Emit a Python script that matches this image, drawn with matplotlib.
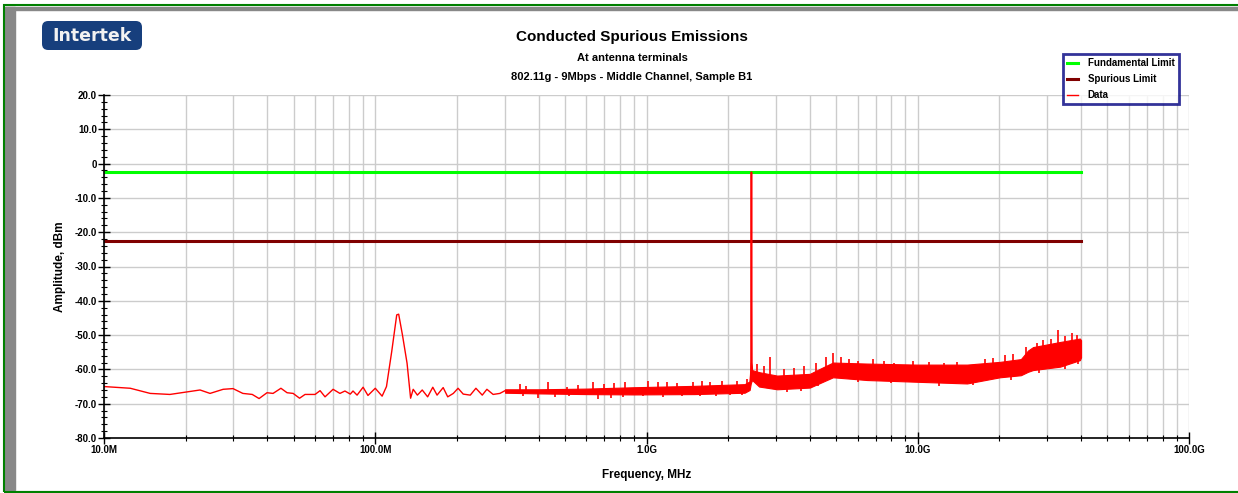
import matplotlib
matplotlib.use("Agg")
import matplotlib.pyplot as plt
from matplotlib.patches import Rectangle, FancyBboxPatch
from matplotlib.ticker import FixedLocator, LogLocator, NullFormatter
import numpy as np

plt.rcParams['font.family'] = ['Liberation Sans', 'DejaVu Sans']
plt.rcParams['font.weight'] = 'bold'

# limits (dBm), from 10 MHz up to 40 GHz
fundamental_limit = -2.5
spurious_limit = -22.5
limit_span_mhz = [10, 40000]

# low-frequency trace (MHz, dBm)
trace_mhz = [10, 12.5, 14.8, 17.5, 22.6, 24.6, 27.5, 29.9, 32.5, 35.2, 37.3, 39.9,
             42.0, 44.9, 47.3, 49.8, 52.6, 55.1, 60.0, 62.6, 65.3, 69.9, 74.1, 77.3,
             80.9, 82.8, 85.7, 90.2, 94.0, 100, 106, 110, 115, 120, 122, 126, 131,
             135, 138, 143, 149, 156, 163, 169, 178, 185, 194, 202, 211, 224, 235,
             248, 258, 272, 288, 301]
trace_dbm = [-65.0, -65.5, -67.0, -67.3, -66.0, -67.0, -65.8, -65.6, -67.0, -67.3, -68.5, -66.8,
             -67.0, -65.5, -66.8, -67.0, -68.4, -67.3, -67.3, -66.2, -68.0, -65.8, -67.0, -66.3,
             -67.2, -66.3, -67.5, -65.2, -67.6, -65.5, -67.8, -65.0, -54.8, -44.1, -43.9, -50.0, -58.2,
             -68.4, -65.8, -67.5, -66.0, -68.0, -65.2, -67.5, -65.3, -68.0, -67.0, -65.5, -67.2, -67.5, -65.5,
             -67.5, -65.8, -67.3, -67.0, -66.2]

# noisy part of the sweep: core lower / upper envelope (MHz, dBm)
band_mhz = [301, 400, 600, 900, 1500, 2300, 2400, 2425, 2450, 2600, 3030, 4000,
            4500, 4870, 6500, 9900, 15200, 20100, 24000, 25500, 26600, 33500, 39600, 40000]
band_lo = [-66.8, -67.0, -67.2, -67.3, -67.2, -66.8, -66.0, -64.0, -63.1, -65.0, -65.8, -65.3,
           -63.5, -62.3, -63.1, -63.6, -64.1, -62.3, -61.7, -60.7, -60.2, -59.2, -57.3, -56.5]
band_hi = [-65.8, -65.8, -65.6, -65.2, -64.8, -64.3, -63.5, -58.0, -60.2, -60.8, -61.8, -61.3,
           -59.3, -58.0, -58.3, -58.6, -58.6, -57.8, -57.0, -54.5, -53.5, -52.0, -51.0, -51.5]

# carrier at 2437 MHz
carrier_mhz = [2415, 2428, 2433, 2437, 2441, 2446, 2460]
carrier_dbm = [-64.0, -60.0, -30.0, -2.5, -30.0, -58.0, -62.0]

# noise spikes above / below the core (MHz, dBm)
spike_up_mhz = [342, 360, 433, 509, 560, 635, 700, 760, 834, 1010, 1100, 1190, 1300, 1480,
                1600, 1710, 1900, 2150, 2350,
                2550, 2700, 2850, 3200, 3500, 3800, 4200, 4600, 4850, 5200, 5600, 6000,
                6840, 7500, 8200, 9600, 11000, 12500, 14000, 17700, 19000, 21000, 22500,
                25000, 27500, 29000, 31000, 33000, 35000, 37100, 38500]
spike_up_dbm = [-64.3, -64.8, -63.8, -65.0, -64.5, -63.7, -64.2, -64.0, -63.6, -63.4, -63.6, -63.8,
                -64.0, -63.6, -63.5, -63.6, -63.4, -63.3, -62.9,
                -58.5, -59.0, -56.3, -60.0, -59.5, -59.0, -58.0, -56.5, -55.3, -56.5, -57.0, -57.5,
                -57.0, -57.5, -58.0, -57.6, -57.8, -58.0, -57.8, -57.0, -56.8, -55.8, -55.5,
                -53.5, -52.4, -51.5, -51.0, -48.5, -50.2, -49.5, -50.0]
spike_dn_mhz = [350, 398, 460, 520, 662, 740, 819, 971, 1150, 1350, 1570, 1800, 2030, 2250,
                2700, 3300, 3700, 4300, 6000, 8000, 12000, 16000, 22000, 28000, 35000, 39000]
spike_dn_dbm = [-67.8, -68.4, -68.1, -67.9, -68.7, -68.2, -68.1, -67.9, -68.0, -67.9, -67.9,
                -67.8, -67.6, -67.5,
                -64.0, -66.5, -66.3, -64.8, -63.8, -64.0, -64.8, -64.6, -63.0, -61.0, -60.0, -58.5]

fig = plt.figure(figsize=(12.38, 4.93), dpi=100)
ax = fig.add_axes([104 / 1238, 1 - 438 / 493, 1085 / 1238, 343 / 493])

ax.plot(limit_span_mhz, [fundamental_limit] * 2, color='#00ff00', lw=2.2, label='Fundamental Limit')
ax.plot(limit_span_mhz, [spurious_limit] * 2, color='#800000', lw=2.2, label='Spurious Limit')
ax.plot(trace_mhz, trace_dbm, color='#ff0000', lw=1.0, label='Data')
ax.fill_between(band_mhz, band_lo, band_hi, color='#ff0000', lw=0.8, edgecolor='#ff0000')
ax.plot(carrier_mhz, carrier_dbm, color='#ff0000', lw=1.2)
mid = (np.array(band_lo) + np.array(band_hi)) / 2
ax.vlines(spike_up_mhz, np.interp(spike_up_mhz, band_mhz, mid), spike_up_dbm, color='#ff0000', lw=1.2)
ax.vlines(spike_dn_mhz, np.interp(spike_dn_mhz, band_mhz, mid), spike_dn_dbm, color='#ff0000', lw=1.2)

ax.set_xscale('log')
ax.set_xlim(10, 100000)
ax.set_ylim(-80, 20)

ax.set_xticks([10, 100, 1000, 10000, 100000])
ax.set_xticklabels(['10.0M', '100.0M', '1.0G', '10.0G', '100.0G'])
ax.xaxis.set_minor_locator(LogLocator(base=10, subs=np.arange(2, 10)))
ax.xaxis.set_minor_formatter(NullFormatter())
yt = np.arange(-80, 21, 10)
ax.set_yticks(yt)
ax.set_yticklabels(['0' if v == 0 else f'{v:.1f}' for v in yt])
ax.yaxis.set_minor_locator(FixedLocator(np.arange(-80, 21, 2)))

ax.tick_params(axis='both', which='major', direction='inout', length=8, width=1.0,
               labelsize=7, pad=1)
ax.tick_params(axis='both', which='minor', direction='inout', length=5, width=0.8)
ax.grid(True, which='major', color='#cccccc', lw=1.0)
ax.grid(True, which='minor', axis='x', color='#cccccc', lw=1.0)
ax.set_axisbelow(True)
for s in ['top', 'right']:
    ax.spines[s].set_visible(False)
for s in ['left', 'bottom']:
    ax.spines[s].set_linewidth(1.2)

ax.set_xlabel('Frequency, MHz', fontsize=8.5, fontweight='bold', labelpad=10)
ax.set_ylabel('Amplitude, dBm', fontsize=8.5, fontweight='bold', labelpad=6)

fig.text(632 / 1238, 1 - 37 / 493, 'Conducted Spurious Emissions', ha='center', va='center',
         fontsize=11, fontweight='bold')
fig.text(632 / 1238, 1 - 58 / 493, 'At antenna terminals', ha='center', va='center',
         fontsize=8, fontweight='bold')
fig.text(632 / 1238, 1 - 77 / 493, '802.11g - 9Mbps - Middle Channel, Sample B1', ha='center',
         va='center', fontsize=8, fontweight='bold')

leg = ax.legend(loc='upper left', bbox_to_anchor=(1063 / 1238, 1 - 54 / 493),
                bbox_transform=fig.transFigure, fontsize=7, frameon=True, fancybox=False,
                handlelength=1.1, handletextpad=1.0, labelspacing=0.6, borderpad=0.45,
                borderaxespad=0)
leg.get_frame().set_edgecolor('#000080')
leg.get_frame().set_linewidth(2)
for t in leg.get_texts():
    t.set_fontweight('bold')

# logo
fig.patches.append(FancyBboxPatch((42 / 1238, 1 - 50 / 493), 100 / 1238, 29 / 493,
                                  boxstyle='round,pad=0,rounding_size=0.005',
                                  transform=fig.transFigure, fc='#173f7d', ec='none',
                                  mutation_aspect=1238 / 493))
fig.text(92 / 1238, 1 - 36 / 493, 'Intertek', ha='center', va='center', color='#f2f2f2',
         fontsize=12.5, fontweight='bold', family='DejaVu Sans')

# frame
fig.patches.append(Rectangle((5 / 1238, 0), 10 / 1238, 1 - 7 / 493, transform=fig.transFigure,
                             color='#888888', zorder=0))
fig.patches.append(Rectangle((5 / 1238, 1 - 10 / 493), 1 - 5 / 1238, 3 / 493,
                             transform=fig.transFigure, color='#888888', zorder=0))
fig.patches.append(Rectangle((4 / 1238, 1 / 493), 1, 1 - 6 / 493, transform=fig.transFigure,
                             fill=False, ec='#008000', lw=1.5, zorder=1))
fig.patches.append(Rectangle((15 / 1238, 0), 1, 2 / 493, transform=fig.transFigure,
                             color='#dddddd', zorder=0))

fig.savefig('out.png', dpi=100)
